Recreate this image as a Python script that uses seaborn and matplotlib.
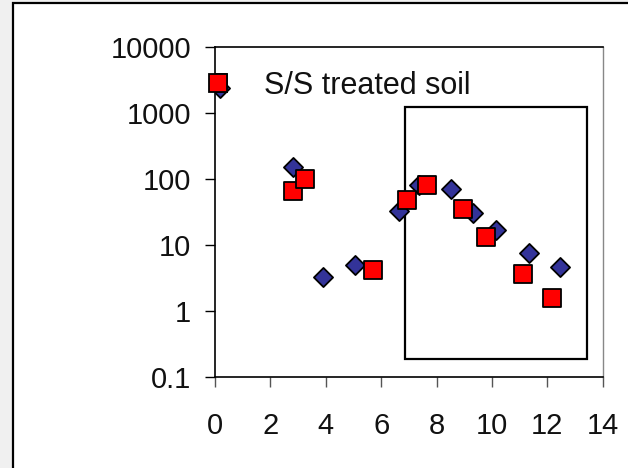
import matplotlib
matplotlib.use("Agg")
import matplotlib.pyplot as plt
from matplotlib.patches import Rectangle
from matplotlib.lines import Line2D
import seaborn as sns
import pandas as pd

# ---- data ----
blue_x = [0.18, 2.82, 3.90, 5.04, 6.65, 7.36, 8.52, 9.32, 10.13, 11.35, 12.45]
blue_y = [2400, 155, 3.3, 5.0, 32.5, 82, 71, 30.7, 16.6, 7.6, 4.7]
red_x = [0.12, 2.81, 3.26, 5.71, 6.94, 7.67, 8.97, 9.77, 11.13, 12.16]
red_y = [2830, 65, 100, 4.1, 47.6, 82, 35, 13.3, 3.6, 1.56]
legend_label = "S/S treated soil"
x_ticks = [0, 2, 4, 6, 8, 10, 12, 14]
y_ticks = [0.1, 1, 10, 100, 1000, 10000]
y_tick_labels = ["0.1", "1", "10", "100", "1000", "10000"]
box_x = (6.86, 13.42)
box_y = (0.185, 1230)

sns.set_style("white")
plt.rcParams["font.family"] = ["Liberation Sans", "DejaVu Sans"]

fig = plt.figure(figsize=(6.28, 4.68), dpi=100)
fig.patch.set_facecolor("#f0f0f0")
# white chart area with black frame
frame = Rectangle((13 / 628, -0.01), 1.0, 1.01 - 3 / 468, transform=fig.transFigure,
                  facecolor="white", edgecolor="black", linewidth=1.6, zorder=-10)
fig.patches.append(frame)

ax = fig.add_axes([215 / 628, 1 - 376.7 / 468, (602.7 - 215) / 628, (376.7 - 47.3) / 468])
ax.set_facecolor("white")
ax.set_zorder(1)

df_blue = pd.DataFrame({"x": blue_x, "y": blue_y})
df_red = pd.DataFrame({"x": red_x, "y": red_y})

sns.scatterplot(data=df_blue, x="x", y="y", ax=ax, marker="D", s=95,
                color="#333399", edgecolor="black", linewidth=1.3, legend=False, zorder=3)
sns.scatterplot(data=df_red, x="x", y="y", ax=ax, marker="s", s=165,
                color="#ff0000", edgecolor="black", linewidth=1.3, legend=False, zorder=4)

ax.set_yscale("log")
ax.set_xlim(0, 14)
ax.set_ylim(0.1, 10000)
ax.set_xticks(x_ticks)
ax.set_xticklabels([str(t) for t in x_ticks])
ax.set_yticks(y_ticks)
ax.set_yticklabels(y_tick_labels)
ax.minorticks_off()
ax.set_xlabel("")
ax.set_ylabel("")

ax.tick_params(axis="y", which="major", direction="out", length=7.2, width=1,
               color="black", labelsize=21, pad=10, left=True, labelcolor="#111111")
ax.tick_params(axis="x", which="major", direction="out", length=7.2, width=1,
               color="#555555", labelsize=21, pad=18, bottom=True, labelcolor="#111111")

for side in ["left", "bottom", "top"]:
    ax.spines[side].set_color("black")
    ax.spines[side].set_linewidth(1.2)
ax.spines["right"].set_color("#888888")
ax.spines["right"].set_linewidth(1.0)

# inner rectangle
rect = Rectangle((box_x[0], box_y[0]), box_x[1] - box_x[0], box_y[1] - box_y[0],
                 fill=False, edgecolor="black", linewidth=1.6, zorder=2)
ax.add_patch(rect)

handle = Line2D([], [], linestyle="none", marker="s", markersize=12.5,
                markerfacecolor="#ff0000", markeredgecolor="black", markeredgewidth=1.3)
fs = 22
fs_px = fs * 100 / 72
hl = 1.0
left_px = 218 - hl * fs_px / 2
pad = (264 - left_px - hl * fs_px) / fs_px
ax.legend(handles=[handle], labels=[legend_label], loc="center left",
          bbox_to_anchor=(left_px / 628, 1 - 86 / 468), bbox_transform=fig.transFigure,
          frameon=False, borderpad=0, borderaxespad=0, handlelength=hl,
          handletextpad=pad, fontsize=fs, labelcolor="#111111")

fig.savefig("out.png", dpi=100, facecolor=fig.get_facecolor())
